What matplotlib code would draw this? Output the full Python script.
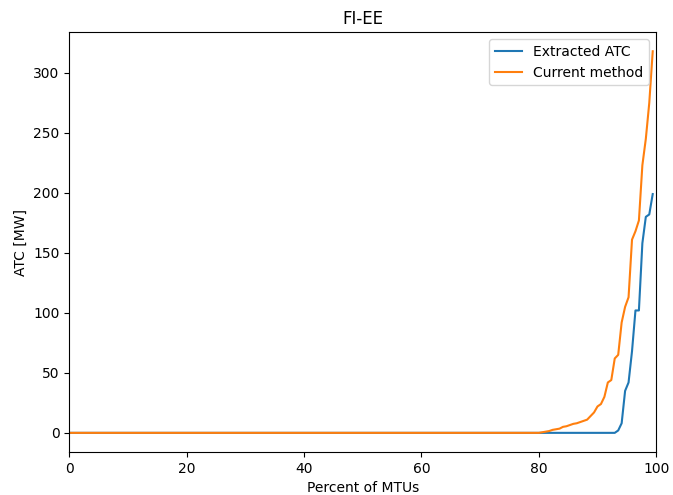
import matplotlib
matplotlib.use("Agg")
import matplotlib.pyplot as plt
import numpy as np

n_points = 170
percent = np.arange(n_points) / n_points * 100

extracted_tail = [0, 0, 0, 0, 0, 0, 0, 0, 0, 0, 0, 0, 0, 0, 0, 0, 0, 0, 0, 0, 0, 0, 0,
                  2, 8, 35, 42, 68, 102, 102, 158, 180, 182, 199]
current_tail = [0, 0.5, 1, 1.5, 2.5, 3, 3.5, 5, 5.5, 6.5, 7.5, 8, 9, 10, 11, 14, 17,
                22, 24, 30, 42, 44, 62, 65, 92, 105, 113, 161, 168, 177, 223, 245, 275, 318]

extracted_atc = [0] * (n_points - len(extracted_tail)) + extracted_tail
current_method = [0] * (n_points - len(current_tail)) + current_tail

fig = plt.figure(figsize=(6.73, 4.95), dpi=100)
ax = fig.add_subplot(111)
fig.subplots_adjust(left=0.103, right=0.975, top=0.935, bottom=0.087)
ax.plot(percent, extracted_atc, color="#1f77b4", label="Extracted ATC")
ax.plot(percent, current_method, color="#ff7f0e", label="Current method")
ax.set_xlim(0, 100)
ax.set_title("FI-EE")
ax.set_xlabel("Percent of MTUs")
ax.set_ylabel("ATC [MW]")
ax.legend(loc="upper right")
fig.savefig("out.png", dpi=100)
